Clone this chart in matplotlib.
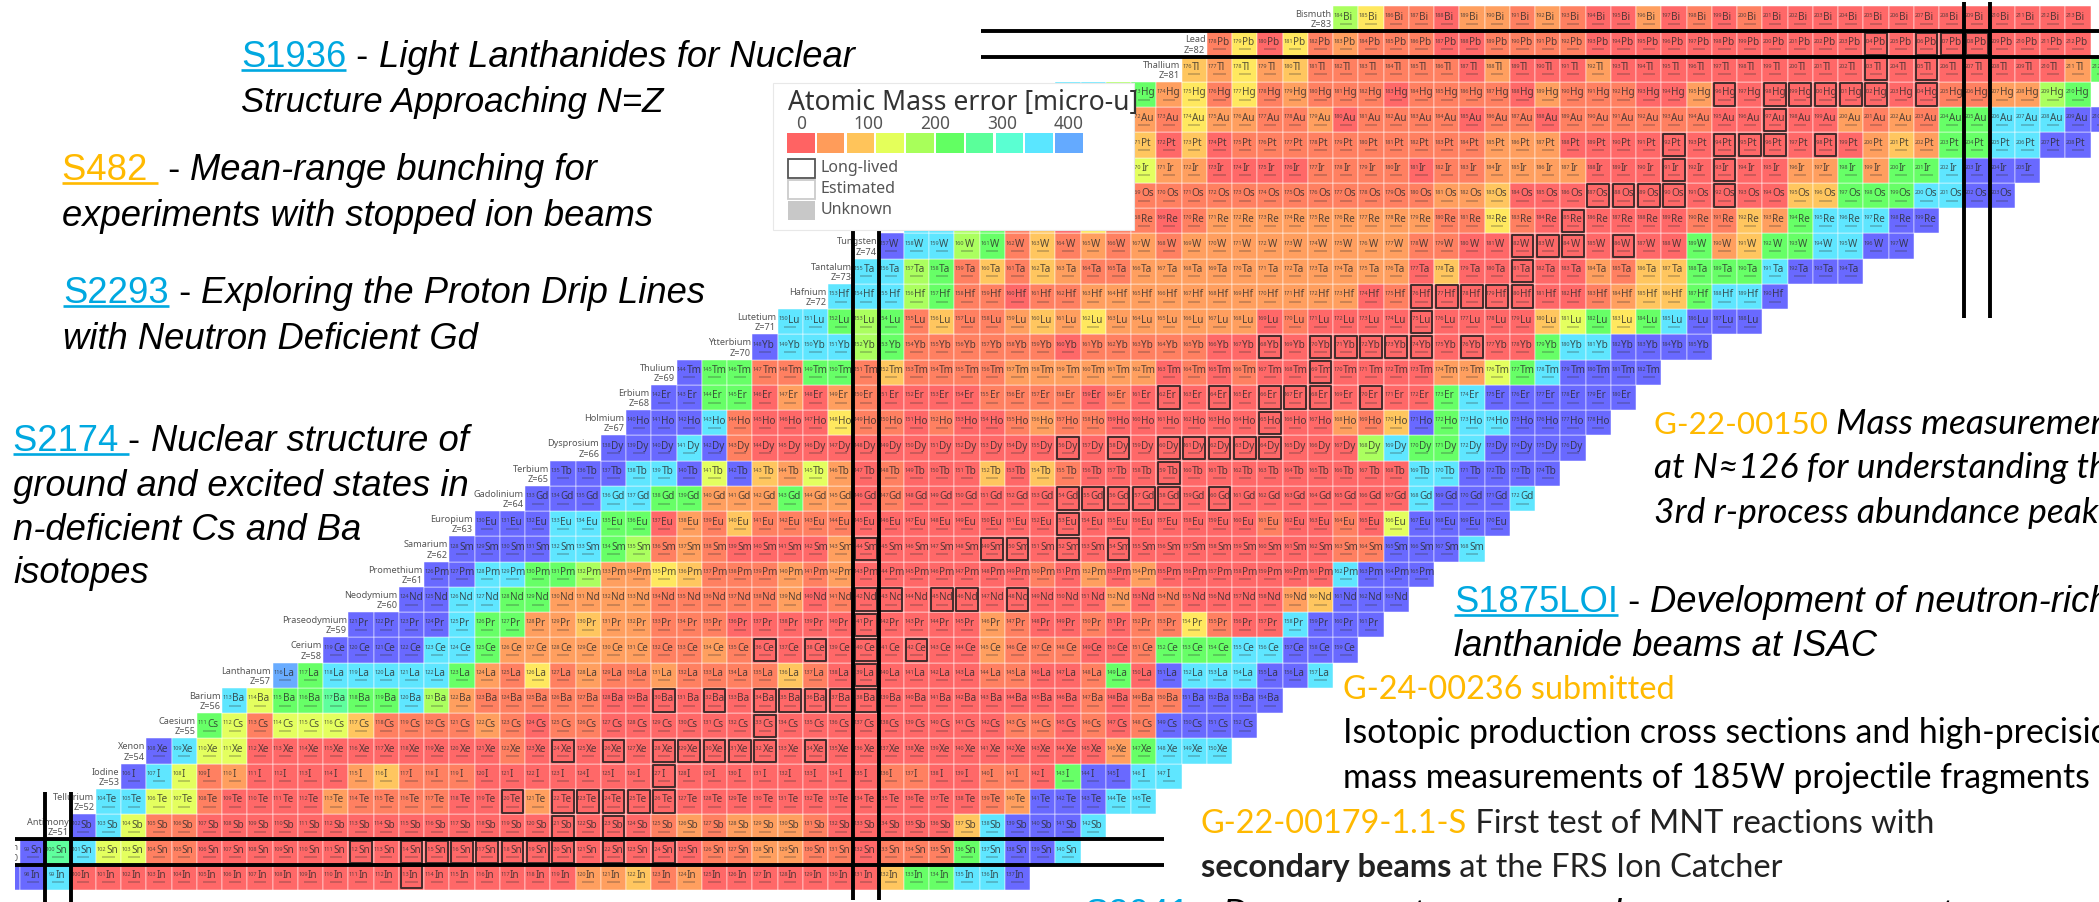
import matplotlib
matplotlib.use("Agg")
import matplotlib.pyplot as plt
from matplotlib.patches import Rectangle
from matplotlib.collections import PatchCollection, LineCollection

W, H = 2099, 903
PITCH = 25.25
X50, Y50 = 58.0, 853.0

# ---------- data ----------
colour_of = {'r': '#ff6363', 's': '#ff7c5c', 'o': '#ff9c5a', 'a': '#ffc45a', 'y': '#ffe85a',
             'l': '#e4ff5a', 'g': '#a8ff5a', 'G': '#62ff62', 'm': '#5aff9a', 'q': '#5affd2',
             'c': '#5ae6ff', 'b': '#64aaff', 'i': '#6464ff'}
legend_bins = ['r', 'o', 'a', 'l', 'g', 'G', 'm', 'q', 'c', 'b']
legend_ticks = ['0', '100', '200', '300', '400']

proton_numbers = list(range(49, 84))
symbols = ['In', 'Sn', 'Sb', 'Te', 'I', 'Xe', 'Cs', 'Ba', 'La', 'Ce', 'Pr', 'Nd', 'Pm', 'Sm', 'Eu', 'Gd', 'Tb',
           'Dy', 'Ho', 'Er', 'Tm', 'Yb', 'Lu', 'Hf', 'Ta', 'W', 'Re', 'Os', 'Ir', 'Pt', 'Au', 'Hg', 'Tl', 'Pb', 'Bi']
names = ['', 'Tin', 'Antimony', 'Tellurium', 'Iodine', 'Xenon', 'Caesium', 'Barium', 'Lanthanum', 'Cerium',
         'Praseodymium', 'Neodymium', 'Promethium', 'Samarium', 'Europium', 'Gadolinium', 'Terbium', 'Dysprosium',
         'Holmium', 'Erbium', 'Thulium', 'Ytterbium', 'Lutetium', 'Hafnium', 'Tantalum', 'Tungsten', 'Rhenium',
         'Osmium', 'Iridium', 'Platinum', 'Gold', 'Mercury', 'Thallium', 'Lead', 'Bismuth']
first_neutron = [48, 49, 51, 52, 53, 54, 56, 57, 59, 61, 62, 64, 65, 66, 67, 69, 70,
                 72, 73, 74, 75, 78, 79, 81, 82, 83, 84, 93, 93, 93, 93, 90, 95, 96, 101]
row_cells = [
    "iic rrrrrrrrrr rrrrrrrrrr ooaso rrrrrrr aGGcci",
    "imcllss rrrrrrrrrr rrrrrrrrrr ssoossr sssGciic",
    "iclss rrrrrrrrrr rrrrrrrr sosooos rrrrr aciiic",
    "cclls rrrr ossss rrr o rrrrrrrrrr rrrrrrrs o iiicc",
    "iclso rrrr oasss rrrrrrrrrr rrrrrr ssrr ssr Giicc",
    "icll rrrrrrrrrr s rrrrrrrrrr rrrrrrrrrr rrr oGccc",
    "Glslllassssosrss rrrrrrrrrr rrrrrr ssrsrs iiii",
    "clGGmGGcgosssssrr rrrrrrrrrr rrrrrrr srss iiii",
    "bGcccccG osysoss ossss asrr rrrr ss rr s G r i ccc ii c",
    "iiiiccG oooooo ss os rrrrrrrrr osss rrs GGG cciii",
    "iiiicGG ooaoo sss rrrrrrrrrr osrrsrss ysrrciii",
    "iiccGG oooo sssss orsr rrrrrrrrr ors rrrr oaiii",
    "iiccGGg ooya sssosor rrrrrr sroror rrrrrr ciii",
    "iiiiccGg sos rrrr or rrrrrrrrrr rrrrrrrr ssiiic",
    "iiiccGG rosassss rrrrrrrrrr rrrrrr srrsr liiii",
    "iiiccGG oooGoo rs rrrrrrrrrr rrrrrrrrrr ciiic",
    "iiiccili aolo rsrrraras rrrrrrrrrr rrr cciiii",
    "iiicis rrrrrrrrrr rrrrrrrrrr rrrr gc GGciiii",
    "iiics rrry ssrsrrsoss rrrrrrrrr osa iGcciiii",
    "iiGGroro srrrr ssssrsr rrrrrrrrrr r Gciiiiii",
    "iGGssGGsa ssss oooooo rsrsrrrrrrr oolGc iiii",
    "icccgG ssssss r sssss rrrrrrrrrr rrr Gcc iiii",
    "ccGgG sassoao y oooooo rs rrrrrrrrr alGyGciii",
    "cccgG ssrss ooooooooooo rs rrrrrrr soaaGcci",
    "ccgG sasaoss ooooooooooo rarrrrr os aaGGGciii",
    "iccgGsasos os ooooooooo ssrrrrrrrrr GoaGGccii",
    "ccgGsarys srs ooooooooo ssy srrrrrrss aoGcccii",
    "ssssssssssss ooa rrrrrrrrrrr aaGGGccii",
    "loo rrrr ssss rss oooo rrrrrrrr ooGoGGciii",
    "arar ssssssssss ooo rrrrrrrrrrrr oaoGGccii",
    "osyoosso rssss rssrs sssss rrrrr osos GGcccii",
    "ccgG oysyso sss rssss rosss rr o rrrrrrrrr ssoogG",
    "aoyoa ssssss rorrro rrrrrrrrrr rrrrrrrr oG",
    "syrysosssrrssssr rrrrrrrrrr rrrrrrrrr",
    "gyssroosos rrorsrs rrrrrrrrrr rrr",
]
long_lived = [[64], [62, 64, 65, 66, 67, 68, 69, 70, 72, 74], [70, 72], [68, 70, 71, 72, 73, 74], [74],
              [70, 72, 74, 75, 76, 77, 78, 80], [78], [74, 76, 78, 79, 80, 81, 82], [82], [78, 80, 82, 84], [82],
              [82, 83, 85, 86, 88], [], [82, 87, 88, 90, 92], [90], [90, 91, 92, 93, 94, 96], [94],
              [90, 92, 94, 95, 96, 97, 98], [98], [94, 96, 98, 99, 100, 102], [100],
              [98, 100, 101, 102, 103, 104, 106], [104], [104, 105, 106, 107, 108], [108], [108, 109, 110, 112],
              [110], [111, 112, 113, 114, 116], [114, 116], [114, 116, 117, 118, 120], [118],
              [116, 118, 119, 120, 121, 122, 124], [122, 124], [122, 124, 125, 126], []]
magic_neutrons = [50, 82, 126]
magic_protons = [50, 82]

CYAN, AMBER = '#00a8e0', '#ffb900'
ARIAL = dict(family='Liberation Sans', style='italic')
CAL = dict(family='Lato')
CALI = dict(family='Lato', style='italic')
CALB = dict(family='Lato', weight='bold')

# ---------- figure ----------
fig = plt.figure(figsize=(W / 100, H / 100), dpi=100, facecolor='white')
ax = fig.add_axes([0, 0, 1, 1], zorder=1)
ax.set_xlim(50 - X50 / PITCH, 50 + (W - X50) / PITCH)
ax.set_ylim(50 - (H - Y50) / PITCH, 50 + Y50 / PITCH)
ax.axis('off')

patches, faces, boxes, smudges = [], [], [], []
for z, sym, name, n0, cells, ll in zip(proton_numbers, symbols, names, first_neutron, row_cells, long_lived):
    codes = cells.replace(' ', '')
    for k, code in enumerate(codes):
        n = n0 + k
        patches.append(Rectangle((n - 0.5, z - 0.5), 1, 1))
        faces.append(colour_of[code])
        anchor = n - 0.1
        ax.text(anchor, z + 0.15, str(n + z), fontsize=4, ha='right', va='center', color='#333333',
                family='Noto Sans', alpha=0.8, zorder=3)
        ax.text(anchor, z + 0.1, sym, fontsize=7.2, ha='left', va='center', color='#2a2a2a',
                family='Noto Sans', alpha=0.8, zorder=3)
        smudges.append([(n - 0.24, z - 0.2), (n + 0.24, z - 0.2)])
    for n in ll:
        boxes.append(Rectangle((n - 0.43, z - 0.44), 0.86, 0.88))
    if name:
        ax.text(n0 - 0.56, z + 0.2, name, fontsize=6.6, ha='right', va='center', color='#555555',
                family='Noto Sans', zorder=3)
        ax.text(n0 - 0.56, z - 0.2, f'Z={z}', fontsize=6.6, ha='right', va='center', color='#555555',
                family='Noto Sans', zorder=3)

ax.add_collection(PatchCollection(patches, facecolor=faces, edgecolor='#ffffff', linewidth=0.35, alpha=0.97, zorder=2))
ax.add_collection(LineCollection(smudges, colors='#333333', linewidths=1.3, alpha=0.28, zorder=3))
ax.add_collection(PatchCollection(boxes, facecolor='none', edgecolor='#3c2a2a', linewidth=1.35, zorder=4))

# magic-number guide lines
LW = 2.8
line = dict(color='black', lw=LW, zorder=6, solid_capstyle='butt')
for zm, (a, b) in zip(magic_protons, [(48.3, 93.8), (86.55, 133)]):
    ax.plot([a, b], [zm - 0.5, zm - 0.5], **line)
    ax.plot([a, b], [zm + 0.5, zm + 0.5], **line)
for nm, (a, b) in zip(magic_neutrons, [(48, 52.38), (48.1, 75.5), (71.15, 83.65)]):
    ax.plot([nm - 0.5, nm - 0.5], [a, b], **line)
    ax.plot([nm + 0.5, nm + 0.5], [a, b], **line)

# overlay in pixel coordinates
ov = fig.add_axes([0, 0, 1, 1], zorder=5)
ov.set_xlim(0, W)
ov.set_ylim(H, 0)
ov.axis('off')
ov.patch.set_alpha(0)
ov.add_patch(Rectangle((0, 790), 15, 113, fc='white', ec='none', zorder=1))

# legend
ov.add_patch(Rectangle((773, 84), 361, 147, fc='white', ec='#e8e8e8', lw=0.8, zorder=2))
fig.canvas.draw()
rend = fig.canvas.get_renderer()


def width(s, size, **kw):
    t = ov.text(0, 0, 'x' + s + 'x', fontsize=size, **kw)
    w1 = t.get_window_extent(rend).width
    t.set_text('xx')
    w2 = t.get_window_extent(rend).width
    t.remove()
    return w1 - w2


def fit(s, target, **kw):
    return 10 * target / width(s, 10, **kw)


def put(x, y, segs, size, underline_y=3.5):
    for s, col, kw, ul in segs:
        w = width(s, size, **kw)
        ov.text(x, y, s, fontsize=size, color=col, ha='left', va='baseline', zorder=8, **kw)
        if ul:
            ov.plot([x, x + w], [y + underline_y, y + underline_y], color=col, lw=1.9, zorder=8, solid_capstyle='butt')
        x += w
    return x


ov.text(787.7, 103, 'Atomic Mass error [micro-u]', fontsize=fit('Atomic Mass error [micro-u]', 350, family='Noto Sans'),
        family='Noto Sans', color='#333333', va='center', ha='left', zorder=8)
for i, t in enumerate(legend_ticks):
    ov.text(801 + 67 * i, 124, t, fontsize=12.5, family='Noto Sans', color='#555555', ha='center', va='center', zorder=8)
for i, code in enumerate(legend_bins):
    ov.add_patch(Rectangle((787 + 29.8 * i, 134.3), 27.5, 19.7, fc=colour_of[code], ec='none', zorder=8))
ov.add_patch(Rectangle((787.5, 159.5), 27, 19.5, fc='white', ec='#555555', lw=1.3, zorder=8))
ov.add_patch(Rectangle((787.5, 181), 27, 19, fc='white', ec='#cccccc', lw=1.3, zorder=8))
ov.add_patch(Rectangle((787.5, 202.3), 27, 18.5, fc='#c8c8c8', ec='none', zorder=8))
for y, t in zip([168, 189, 210], ['Long-lived', 'Estimated', 'Unknown']):
    ov.text(821, y, t, fontsize=fit('Long-lived', 78, family='Noto Sans'), family='Noto Sans', color='#555555',
            va='center', ha='left', zorder=8)

# annotation text
A = fit('experiments with stopped ion beams', 592, **ARIAL)
A2 = fit('Structure Approaching N=Z', 424, **ARIAL)
AP = dict(family='Liberation Sans')
put(241, 67, [('S1936', CYAN, AP, True), (' - ', 'black', AP, False), ('Light Lanthanides for Nuclear', 'black', ARIAL, False)], A)
put(241, 112, [('Structure Approaching N=Z', 'black', ARIAL, False)], A2)
put(62, 180, [('S482 ', AMBER, AP, True), (' - ', 'black', AP, False), ('Mean-range bunching for', 'black', ARIAL, False)], A)
put(62, 226, [('experiments with stopped ion beams', 'black', ARIAL, False)], A)
put(63, 303, [('S2293', CYAN, AP, True), (' - ', 'black', AP, False), ('Exploring the Proton Drip Lines', 'black', ARIAL, False)], A)
put(63, 349, [('with Neutron Deficient Gd', 'black', ARIAL, False)], A)
put(13, 451, [('S2174 ', CYAN, AP, True), ('- ', 'black', AP, False), ('Nuclear structure of', 'black', ARIAL, False)], A)
put(13, 496, [('ground and excited states in', 'black', ARIAL, False)], A)
put(13, 540, [('n-deficient Cs and Ba', 'black', ARIAL, False)], A)
put(13, 583, [('isotopes', 'black', ARIAL, False)], A)

G = fit('G-22-00150', 174, **CAL)
GI = fit('3rd r-process abundance peak', 445, **CALI)
x_after = put(1654, 434, [('G-22-00150 ', AMBER, CAL, False)], G)
put(x_after, 434, [('Mass measurements', 'black', CALI, False)], GI)
put(1654, 478, [('at N≈126 for understanding the', 'black', CALI, False)], GI)
put(1654, 523, [('3rd r-process abundance peak', 'black', CALI, False)], GI)

put(1454, 612, [('S1875LOI', CYAN, AP, True), (' - ', 'black', AP, False), ('Development of neutron-rich', 'black', ARIAL, False)], A)
put(1454, 656, [('lanthanide beams at ISAC', 'black', ARIAL, False)], A)

C = fit('mass measurements of 185W projectile fragments', 747, **CAL)
C1 = fit('G-24-00236 submitted', 333, **CAL)
C2 = fit('G-22-00179-1.1-S First test of MNT reactions with', 734, **CAL)
put(1343, 699, [('G-24-00236 submitted', AMBER, CAL, False)], C1)
put(1343, 743, [('Isotopic production cross sections and high-precision', 'black', CAL, False)], C)
put(1343, 788, [('mass measurements of 185W projectile fragments', 'black', CAL, False)], C)
put(1201, 833, [('G-22-00179-1.1-S', AMBER, CAL, False), (' First test of MNT reactions with', '#222222', CAL, False)], C2)
put(1201, 877, [('secondary beams', '#222222', CALB, False), (' at the FRS Ion Catcher', '#222222', CAL, False)], C2)
put(1084, 925, [('S2041', CYAN, AP, False), (' - ', 'black', AP, False), ('Decay spectroscopy and mass measurements', 'black', ARIAL, False)], A)

fig.savefig('out.png', dpi=100, facecolor='white')
